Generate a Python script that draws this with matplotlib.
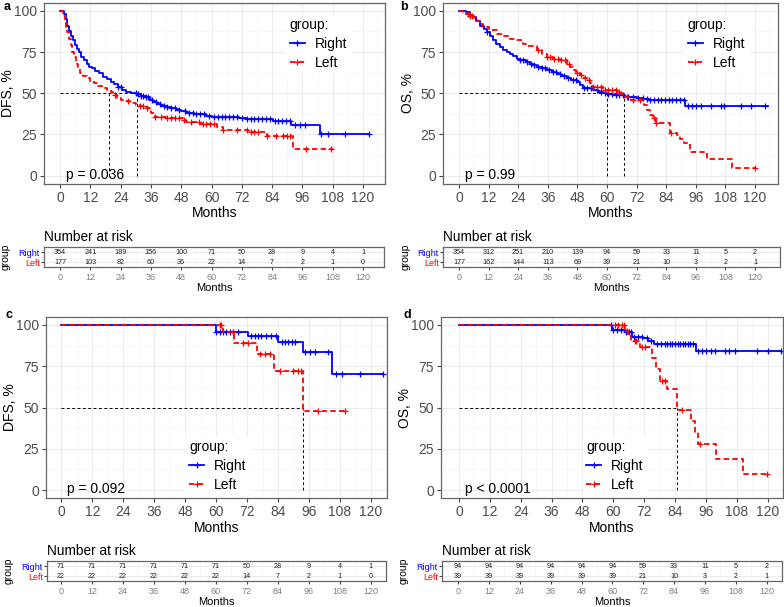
import numpy as np
import matplotlib.pyplot as plt

plt.rcParams['font.family'] = ['Liberation Sans', 'DejaVu Sans']

W, H = 784, 607
BLUE = '#0000FF'
RED = '#FF0000'

risk_times = [0, 12, 24, 36, 48, 60, 72, 84, 96, 108, 120]

# ---- panel a : DFS, all patients
a_right_t = [0, 1.5, 2.2, 2.8, 3.5, 4.2, 5, 5.8, 6.6, 7.5, 8.5, 9.5, 10.5, 11.5, 12.5, 14, 15.5, 17, 18.5,
             20, 21.5, 23, 24.5, 26, 28, 30.3, 32, 34, 35.6, 37, 38.5, 40, 42.2, 44, 46, 48, 50, 53, 58,
             60, 62, 71, 73.8, 84.4, 91.6, 103, 122.4]
a_right_s = [100, 98, 95, 91, 88, 85, 82, 79, 77, 75, 72, 70, 68, 66, 65, 63.5, 62, 60, 58.5,
             57, 55.5, 53.5, 52, 51, 50.3, 49.5, 48.5, 47.5, 46, 44.5, 43.4, 42.5, 41.8, 41, 40, 39, 38, 37.6, 36.5,
             35.8, 35.4, 34.7, 34.3, 33.3, 30.9, 25.6, 25.6]
a_right_cens = [23, 24, 30, 31, 32, 33, 34, 35, 36.5, 38, 39.5, 41, 42.5, 44, 45.5, 47, 49.5, 51, 52.5, 54,
                55.5, 57, 59, 61, 62.5, 64, 65.5, 67, 68.5, 70, 72, 74, 75.5, 77, 78.5, 80, 81.5, 83, 85,
                86.5, 88, 89.5, 91, 93, 95, 97, 103.5, 106, 113, 122.4]
a_left_t = [0, 1.3, 1.8, 2.3, 2.8, 3.5, 4.2, 4.8, 5.5, 6.3, 7, 7.9, 9, 10.5, 12, 13.5, 15, 16.5, 18.5, 20,
            21, 22.5, 24, 26, 27.7, 30, 31.6, 34.3, 36, 37.6, 42, 48.8, 50, 55.4, 62, 64.6, 74.5, 81.8, 92.3, 108]
a_left_s = [100, 97, 94, 90, 87, 83, 79, 75, 72, 68, 65, 62, 60.5, 59, 57.5, 56, 54.5, 53, 52, 50.5,
            49, 47, 46, 45, 44, 43, 42, 41, 38, 35.4, 34.7, 34, 32.7, 31.3, 29.3, 28, 26.7, 24, 16, 16]
a_left_cens = [21.7, 27, 31.6, 33, 34.5, 37.8, 40, 42.5, 44, 45.5, 47, 49, 52, 55, 56.5, 58, 59.5, 61,
               64.6, 70, 74, 75.5, 77, 78.5, 82, 85.7, 88.5, 90, 91, 97.6, 107.5]
a_medians = [19.4, 30.3]
a_risk_right = [354, 241, 189, 156, 100, 71, 50, 28, 9, 4, 1]
a_risk_left = [177, 103, 82, 60, 36, 22, 14, 7, 2, 1, 0]

# ---- panel b : OS, all patients
b_right_t = [0, 3, 4.5, 5.8, 7, 8.5, 10, 11.2, 12.5, 13.9, 15, 16.6, 18, 19.3, 20.5, 22, 23.5, 24.7, 27,
             28.8, 30, 31.5, 33.5, 35.5, 37.5, 39.6, 41.5, 43.6, 45.5, 47.7, 49, 50.4, 54.5, 56.5, 58.5,
             60, 62.6, 67, 69.3, 72, 74.7, 77, 91.8, 125.4]
b_right_s = [100, 99, 97.5, 96, 93.5, 91, 89, 87, 84.5, 82, 80, 78, 76.5, 75, 74, 72.5, 71, 70, 69,
             68, 67, 66, 65, 64, 63, 61.6, 60.5, 59, 58, 57, 55, 53, 52, 51, 50,
             49.5, 49, 48, 47.5, 47, 46.5, 45.9, 42.2, 42.2]
b_right_cens = [11.2, 24.7, 26, 27.5, 29, 30.5, 32, 33.5, 35, 36.5, 38, 39.5, 41, 42.5, 44, 46, 47.5,
                50.5, 52, 53.5, 56, 57.5, 59, 60.5, 62, 63.5, 65, 66.5, 68.5, 70.5, 72.5, 74.5, 76,
                77.5, 79, 80.5, 82, 83.5, 85, 86.5, 88, 89.5, 91, 93, 94.5, 96, 98, 102, 106, 107.5,
                114.5, 118.5, 124]
b_left_t = [0, 1.8, 3, 4.5, 6, 7.2, 8.5, 9.9, 12, 15.3, 18, 20.7, 23, 26, 28, 31.5, 33.5, 35.5, 38, 41,
            43.6, 45, 46.4, 47.5, 49, 50.5, 51.8, 53, 54.5, 58.5, 64, 65.5, 66.6, 69.3, 75, 76, 77.5,
            78.8, 80, 85.5, 88.2, 89.5, 91, 93.6, 100.4, 110.5, 120]
b_left_s = [100, 99, 98, 97, 95.5, 94, 92, 90, 88.5, 86, 84.5, 83, 82, 80, 78.5, 76, 74, 72, 71, 70,
            68, 66, 64, 62.5, 61, 59.5, 58, 56, 53.5, 52, 51, 49.5, 48, 46, 43, 40, 37,
            34.7, 31.7, 25.7, 24.6, 22, 19.6, 14.5, 9.9, 4.8, 4.8]
b_left_cens = [3.8, 4.5, 5.2, 32, 35.5, 37, 38.5, 40, 41.5, 43, 44.5, 48, 49.5, 51, 52.5, 54.5, 56, 57.5,
               59, 60.5, 62, 63.5, 65, 68, 70.7, 73.4, 79, 80, 86, 120]
b_medians = [60.1, 67]
b_risk_right = [354, 312, 251, 210, 139, 94, 59, 33, 11, 5, 2]
b_risk_left = [177, 162, 144, 113, 69, 39, 21, 10, 3, 2, 1]

# ---- panel c : DFS, subgroup
c_right_t = [0, 59.8, 72.3, 84, 93.7, 104.7, 124.8]
c_right_s = [100, 95.6, 93.4, 89.7, 83.6, 70, 70]
c_right_cens = [60, 61.3, 62.6, 63.9, 65.2, 66.5, 68.4, 73.6, 74.9, 76.2, 77.5, 79.4, 81.4, 83.3, 85.3,
                86.6, 87.9, 89.2, 90.4, 94.3, 96.3, 98.2, 103.4, 106.6, 108.6, 115.7, 124.8]
c_left_t = [0, 62.8, 66.8, 75.8, 82.3, 93.7, 109.9]
c_left_s = [100, 96, 89, 82.4, 72, 48, 48]
c_left_cens = [61.3, 62, 66.5, 70.4, 72.3, 76.8, 78.8, 80.7, 84.6, 89.8, 91.7, 93, 99.5, 109.9]
c_medians = [93.7]
c_risk_right = [71, 71, 71, 71, 71, 71, 50, 28, 9, 4, 1]
c_risk_left = [22, 22, 22, 22, 22, 22, 14, 7, 2, 1, 0]

# ---- panel d : OS, subgroup
d_right_t = [0, 59.6, 64.5, 67.4, 71.7, 73.6, 76, 92, 125.4]
d_right_s = [100, 97, 96, 93, 92, 90, 88.6, 84, 84]
d_right_cens = [59.3, 60, 61.5, 63, 65, 66, 67, 68, 69.5, 71, 73, 74.5, 77, 78.5, 80, 81, 82, 83, 84, 85,
                86, 87, 88, 89, 90, 91, 93, 94.5, 96, 98, 99.5, 103.4, 105, 107.5, 115.7, 120.3, 125.4]
d_left_t = [0, 64.5, 65.8, 67, 70.4, 75, 76.8, 78, 80.7, 84.6, 90.2, 91.7, 93, 99.8, 110.3, 119.6]
d_left_s = [100, 96.4, 93.4, 90, 86.6, 80, 73.5, 66, 61, 48.5, 42, 35, 28, 19, 9.7, 9.7]
d_left_cens = [60.6, 61.9, 63.2, 64.2, 65.4, 68.4, 69, 71, 72.3, 78.8, 80, 86.6, 93.7, 119.6]
d_medians = [84.6]
d_risk_right = [94, 94, 94, 94, 94, 94, 59, 33, 11, 5, 2]
d_risk_left = [39, 39, 39, 39, 39, 39, 21, 10, 3, 2, 1]


def px_axes(fig, x0, y0, x1, y1):
    return fig.add_axes([x0 / W, 1 - y1 / H, (x1 - x0) / W, (y1 - y0) / H])


def step_value(t, s, x):
    idx = np.searchsorted(np.array(t), np.array(x), side='right') - 1
    return np.array(s)[idx]


def style_grid(ax):
    ax.set_xticks(risk_times)
    ax.set_xticks(np.arange(6, 130, 12), minor=True)
    ax.grid(which='major', color='#EBEBEB', lw=0.7)
    ax.grid(which='minor', color='#F4F4F4', lw=0.5)
    ax.set_axisbelow(True)
    for sp in ax.spines.values():
        sp.set_color('#666666')
        sp.set_linewidth(0.9)
    ax.tick_params(which='minor', length=0)


def draw_km(ax, xlim, ylabel, curves, medians, ptext, leg_pos):
    ax.set_xlim(xlim)
    ax.set_ylim(-5, 105)
    style_grid(ax)
    ax.set_yticks([0, 25, 50, 75, 100])
    ax.set_yticks([12.5, 37.5, 62.5, 87.5], minor=True)
    ax.tick_params(which='major', length=3, color='#444444', labelsize=10, labelcolor='#4D4D4D', pad=2)
    # median lines
    ax.plot([0, max(medians)], [50, 50], color='black', lw=0.7, dashes=(3, 2.5))
    for m in medians:
        ax.plot([m, m], [0, 50], color='black', lw=0.7, dashes=(3, 2.5))
    handles = []
    for t, s, cens, col, ls, lab in curves:
        ln, = ax.step(t, s, where='post', color=col, lw=1.3)
        if ls == '--':
            ln.set_dashes((3, 1.8))
        ax.plot(cens, step_value(t, s, cens), ls='none', marker='+', color=col, ms=5, mew=0.9)
        h, = ax.plot([], [], color=col, lw=1.3, marker='+', ms=5, mew=0.9)
        if ls == '--':
            h.set_dashes((3, 1.8))
        handles.append((h, lab))
    ax.text(2.3, 0.5, ptext, fontsize=10, va='center', ha='left', color='black')
    leg = ax.legend([h for h, _ in handles], [l for _, l in handles], title='group:',
                    loc='upper left', bbox_to_anchor=leg_pos, borderaxespad=0,
                    fontsize=10, title_fontsize=10,
                    frameon=True, framealpha=1, edgecolor='white', fancybox=False,
                    handlelength=1.1, handletextpad=0.7, borderpad=0.25, labelspacing=0.35)
    leg._legend_box.align = 'left'
    ax.set_xlabel('Months', fontsize=10, labelpad=1)
    ax.set_ylabel(ylabel, fontsize=10)
    ax.yaxis.set_label_coords(-0.085, 0.5)


def draw_risk(ax, xlim, right, left):
    ax.set_xlim(xlim)
    ax.set_ylim(0.5, 2.5)
    style_grid(ax)
    ax.set_yticks([1, 2])
    ax.set_yticklabels(['Left', 'Right'])
    ax.get_yticklabels()[0].set_color(RED)
    ax.get_yticklabels()[1].set_color(BLUE)
    ax.tick_params(axis='y', length=2, labelsize=6.5, pad=1, color='#444444')
    ax.tick_params(axis='x', which='major', length=2, labelsize=6.5, labelcolor='#7F7F7F',
                   color='#444444', pad=2)
    for tt, n in zip(risk_times, right):
        ax.text(tt, 2, str(n), ha='center', va='center', fontsize=5.2, color='#222222')
    for tt, n in zip(risk_times, left):
        ax.text(tt, 1, str(n), ha='center', va='center', fontsize=5.2, color='#222222')
    ax.set_title('Number at risk', loc='left', fontsize=9.8, pad=4)
    ax.set_xlabel('Months', fontsize=8, labelpad=1)
    ax.set_ylabel('group', fontsize=7.5)
    ax.yaxis.set_label_coords(-0.097, 0.5)


fig = plt.figure(figsize=(W / 100, H / 100), dpi=100)

panels = [
    ('a', (44, 2.5, 385, 184), (44, 247, 384, 267), (-6.34, 128.7), (-6.34, 128.3), 'DFS, %',
     a_right_t, a_right_s, a_right_cens, a_left_t, a_left_s, a_left_cens, a_medians, 'p = 0.036',
     (0.71, 0.933), a_risk_right, a_risk_left, (4, 7)),
    ('b', (443, 2.5, 778, 184), (443, 247, 780, 267), (-6.5, 129.3), (-6.5, 130.1), 'OS, %',
     b_right_t, b_right_s, b_right_cens, b_left_t, b_left_s, b_left_cens, b_medians, 'p = 0.99',
     (0.72, 0.933), b_risk_right, b_risk_left, (400, 7)),
    ('c', (46, 316.7, 387, 498.3), (47, 561, 386, 581), (-6.0, 126.2), (-5.4, 126.0), 'DFS, %',
     c_right_t, c_right_s, c_right_cens, c_left_t, c_left_s, c_left_cens, c_medians, 'p = 0.092',
     (0.409, 0.34), c_risk_right, c_risk_left, (5, 315)),
    ('d', (441, 316.7, 783, 498.3), (442, 561, 782, 581), (-7.0, 125.8), (-6.3, 125.6), 'OS, %',
     d_right_t, d_right_s, d_right_cens, d_left_t, d_left_s, d_left_cens, d_medians, 'p < 0.0001',
     (0.414, 0.34), d_risk_right, d_risk_left, (404, 315)),
]

for (lab, mbox, rbox, mxl, rxl, ylab, rt, rs, rc, lt, ls_, lc, med, ptxt, legpos,
     rr, rl, labpos) in panels:
    ax = px_axes(fig, *mbox)
    curves = [(rt, rs, rc, BLUE, '-', 'Right'), (lt, ls_, lc, RED, '--', 'Left')]
    draw_km(ax, mxl, ylab, curves, med, ptxt, legpos)
    rax = px_axes(fig, *rbox)
    draw_risk(rax, rxl, rr, rl)
    fig.text(labpos[0] / W, 1 - labpos[1] / H, lab, fontsize=9, fontweight='bold', va='center')

fig.savefig('out.png', dpi=100)
